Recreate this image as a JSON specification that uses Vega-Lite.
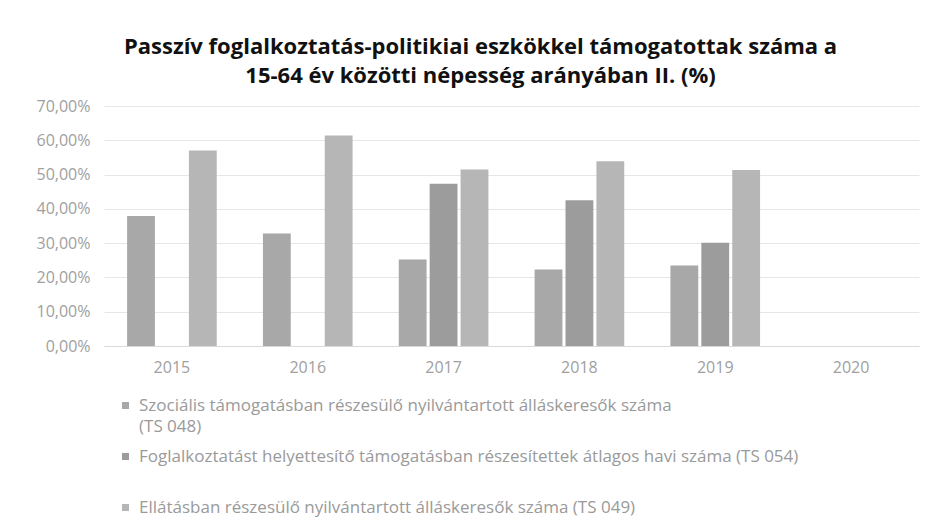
{
  "$schema": "https://vega.github.io/schema/vega-lite/v6.json",
  "width": 815,
  "height": 240,
  "autosize": {"type": "none"},
  "padding": {"left": 104, "top": 106, "right": 9, "bottom": 182},
  "background": "white",
  "title": {
    "text": ["Passzív foglalkoztatás-politikiai eszkökkel támogatottak száma a", "15-64 év közötti népesség  arányában II. (%)"],
    "font": "Open Sans",
    "fontSize": 22,
    "fontWeight": "bold",
    "color": "#111111",
    "anchor": "middle",
    "offset": 10,
    "lineHeight": 29,
    "dx": -31
  },
  "config": {
    "view": {"stroke": null},
    "locale": {"number": {"decimal": ",", "thousands": " ", "grouping": [3], "currency": ["", " Ft"]}}
  },
  "data": {
    "values": [
      {"ev": "2015", "sorozat": "Szociális támogatásban részesülő nyilvántartott álláskeresők száma (TS 048)", "ertek": 0.379},
      {"ev": "2015", "sorozat": "Ellátásban részesülő nyilvántartott álláskeresők száma (TS 049)", "ertek": 0.5705},
      {"ev": "2016", "sorozat": "Szociális támogatásban részesülő nyilvántartott álláskeresők száma (TS 048)", "ertek": 0.328},
      {"ev": "2016", "sorozat": "Ellátásban részesülő nyilvántartott álláskeresők száma (TS 049)", "ertek": 0.614},
      {"ev": "2017", "sorozat": "Szociális támogatásban részesülő nyilvántartott álláskeresők száma (TS 048)", "ertek": 0.252},
      {"ev": "2017", "sorozat": "Foglalkoztatást helyettesítő támogatásban részesítettek átlagos havi száma (TS 054)", "ertek": 0.473},
      {"ev": "2017", "sorozat": "Ellátásban részesülő nyilvántartott álláskeresők száma (TS 049)", "ertek": 0.515},
      {"ev": "2018", "sorozat": "Szociális támogatásban részesülő nyilvántartott álláskeresők száma (TS 048)", "ertek": 0.223},
      {"ev": "2018", "sorozat": "Foglalkoztatást helyettesítő támogatásban részesítettek átlagos havi száma (TS 054)", "ertek": 0.425},
      {"ev": "2018", "sorozat": "Ellátásban részesülő nyilvántartott álláskeresők száma (TS 049)", "ertek": 0.539},
      {"ev": "2019", "sorozat": "Szociális támogatásban részesülő nyilvántartott álláskeresők száma (TS 048)", "ertek": 0.235},
      {"ev": "2019", "sorozat": "Foglalkoztatást helyettesítő támogatásban részesítettek átlagos havi száma (TS 054)", "ertek": 0.301},
      {"ev": "2019", "sorozat": "Ellátásban részesülő nyilvántartott álláskeresők száma (TS 049)", "ertek": 0.513},
      {"ev": "2020", "sorozat": "Szociális támogatásban részesülő nyilvántartott álláskeresők száma (TS 048)", "ertek": null}
    ]
  },
  "mark": {"type": "bar"},
  "encoding": {
    "x": {
      "field": "ev",
      "type": "nominal",
      "sort": ["2015", "2016", "2017", "2018", "2019", "2020"],
      "scale": {"paddingInner": 0.34, "paddingOuter": 0.17},
      "axis": {
        "title": null,
        "labelAngle": 0,
        "labelColor": "#a0a0a0",
        "labelFont": "Open Sans",
        "labelFontSize": 16,
        "labelPadding": 13,
        "ticks": false,
        "domainColor": "#d9d9d9",
        "grid": false
      }
    },
    "xOffset": {
      "field": "sorozat",
      "type": "nominal",
      "sort": [
        "Szociális támogatásban részesülő nyilvántartott álláskeresők száma (TS 048)",
        "Foglalkoztatást helyettesítő támogatásban részesítettek átlagos havi száma (TS 054)",
        "Ellátásban részesülő nyilvántartott álláskeresők száma (TS 049)"
      ],
      "scale": {"paddingInner": 0.1}
    },
    "y": {
      "field": "ertek",
      "type": "quantitative",
      "scale": {"domain": [0, 0.7], "nice": false},
      "axis": {
        "title": null,
        "format": ".2%",
        "values": [0, 0.1, 0.2, 0.3, 0.4, 0.5, 0.6, 0.7],
        "labelColor": "#a0a0a0",
        "labelFont": "Open Sans",
        "labelFontSize": 16,
        "labelPadding": 14,
        "ticks": false,
        "domain": false,
        "gridColor": "#e6e6e6"
      }
    },
    "color": {
      "field": "sorozat",
      "type": "nominal",
      "sort": [
        "Szociális támogatásban részesülő nyilvántartott álláskeresők száma (TS 048)",
        "Foglalkoztatást helyettesítő támogatásban részesítettek átlagos havi száma (TS 054)",
        "Ellátásban részesülő nyilvántartott álláskeresők száma (TS 049)"
      ],
      "scale": {"range": ["#a8a8a8", "#9c9c9c", "#b6b6b6"]},
      "legend": {
        "title": null,
        "orient": "none",
        "legendX": 13,
        "legendY": 291,
        "direction": "vertical",
        "gridAlign": "all",
        "symbolType": "square",
        "symbolSize": 49,
        "labelOffset": 5,
        "labelColor": "#9a9a9a",
        "labelFont": "Open Sans",
        "labelFontSize": 17,
        "labelLimit": 800,
        "rowPadding": 12,
        "labelExpr": "indexof(datum.label, 'TS 048') >= 0 ? ['Szociális támogatásban részesülő nyilvántartott álláskeresők száma', '(TS 048)'] : datum.label",
        "encode": {"labels": {"update": {"lineHeight": {"value": 21}}}}
      }
    }
  }
}
